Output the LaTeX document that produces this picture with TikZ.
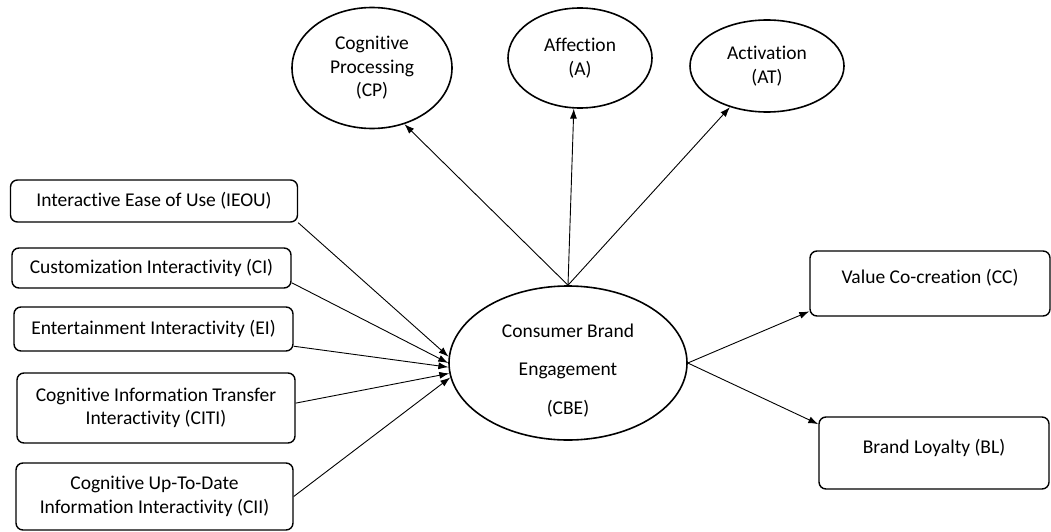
\documentclass[tikz,border=0pt]{standalone}
\usepackage{fontspec}
\setmainfont{Carlito}[Ligatures=NoCommon]
\usetikzlibrary{shapes.geometric, arrows.meta}
\tikzset{
    construct/.style={
        ellipse,
        draw,
        line width=1.6pt,
        inner sep=0pt,
        align=center
    },
    factor/.style={
        rectangle,
        rounded corners=7pt,
        draw,
        line width=1.4pt,
        inner sep=0pt,
        align=center
    },
    every edge/.style={
        draw,
        ->,>={Latex[length=10pt,width=7pt]},
        line width=0.9pt
    }
}

\begin{document}
\begin{tikzpicture}[x=1pt,y=-1pt,font=\fontsize{19.5}{23.5}\selectfont]
	\useasboundingbox (0,0) rectangle (1051,532);
	% engagement dimensions
	\node[construct, minimum width=160pt, minimum height=121pt] at (372,68) (cp) {Cognitive\\Processing\\(CP)};
	\node[construct, minimum width=144pt, minimum height=100pt] at (580,58) (aff) {Affection\\(A)};
	\node[construct, minimum width=154pt, minimum height=92pt] at (767,66) (act) {Activation\\(AT)};
	\node[construct, minimum width=238pt, minimum height=154pt, text height=105pt] at (568,363) (cbe) {Consumer Brand\\[15pt]Engagement\\[15pt](CBE)};
	% interactivity factors
	\node[factor, minimum width=287pt, minimum height=42pt] at (154,201) (ieou) {Interactive Ease of Use (IEOU)};
	\node[factor, minimum width=279pt, minimum height=40pt] at (151.5,268) (ci) {Customization Interactivity (CI)};
	\node[factor, minimum width=279pt, minimum height=44pt] at (153.5,329) (ei) {Entertainment Interactivity (EI)};
	\node[factor, minimum width=278pt, minimum height=70pt] at (156,408) (citi) {Cognitive Information Transfer\\Interactivity (CITI)};
	\node[factor, minimum width=277pt, minimum height=67pt] at (154.5,496.5) (cii) {Cognitive Up-To-Date\\Information Interactivity (CII)};
	% outcomes
	\node[factor, minimum width=240pt, minimum height=65pt, text depth=14pt] at (930,283.5) (cc) {Value Co-creation (CC)};
	\node[factor, minimum width=230pt, minimum height=72pt, text depth=13pt] at (934,453) (bl) {Brand Loyalty (BL)};
	\draw
	(cbe.north) edge (cp.300)
	(cbe.north) edge (aff.263)
	(cbe.north) edge (act.228)
	(ieou.south east) edge (cbe.177)
	(ci.-6) edge (cbe.180)
	(ei.-7) edge (cbe.182)
	(citi.2) edge (cbe.185)
	(cii.east) edge (cbe.187)
	(cbe.east) edge (cc.193)
	(cbe.east) edge (bl.166);
\end{tikzpicture}
\end{document}
